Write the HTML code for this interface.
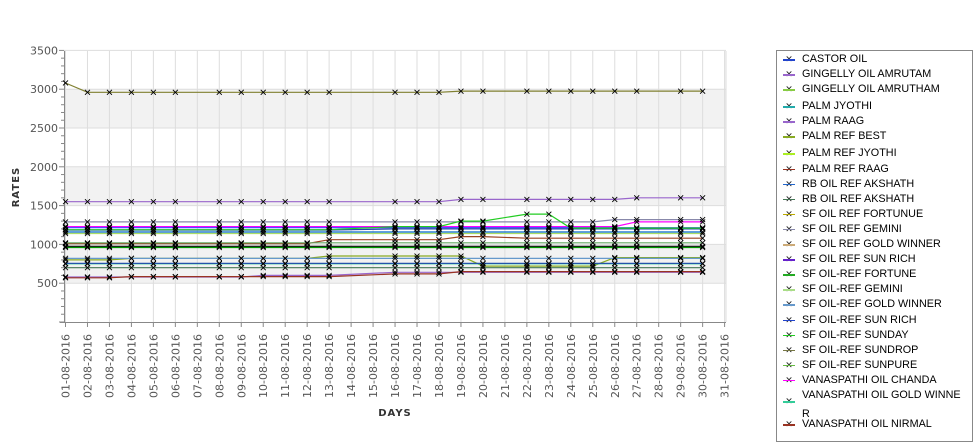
<!DOCTYPE html>
<html><head><meta charset="utf-8"><style>
body{margin:0;background:#fff;width:975px;height:429px;overflow:hidden;font-family:"Liberation Sans","DejaVu Sans",sans-serif}
#lg{position:absolute;left:776px;top:50px;width:195px;height:390px;border:1px solid #888;background:#fff;font-size:10.8px;color:#000}
.e{position:absolute;left:5px;white-space:nowrap;line-height:13px}
.e span{display:inline-block;width:14px;height:13px;margin-right:6px;font-size:9px;text-align:center;position:relative;vertical-align:top;color:#222}
.e span i{position:absolute;left:1px;right:1px;top:6px;height:1.5px}
</style></head><body>
<svg id="c" width="770" height="429" style="position:absolute;left:0;top:0" font-family="DejaVu Sans, sans-serif"></svg>
<div id="lg"></div>
<script>
const s=document.getElementById('c');let h='';
const X=d=>65.5+(d-1)*21.97, Y=v=>322-v*0.0776;
h+='<rect x="64" y="51" width="662" height="271" fill="#fff"/>';
[[2500,3000],[1500,2000],[500,1000]].forEach(b=>h+=`<rect x="64" y="${Y(b[1])}" width="662" height="${Y(b[0])-Y(b[1])}" fill="#f2f2f2"/>`);
for(let v=500;v<=3500;v+=500)h+=`<line x1="64" x2="726" y1="${Y(v)}" y2="${Y(v)}" stroke="#ddd"/>`;
for(let d=1;d<=31;d++)h+=`<line x1="${X(d)}" x2="${X(d)}" y1="51" y2="322" stroke="#ddd"/>`;
h+='<line x1="726" x2="726" y1="51" y2="322" stroke="#ddd"/>';
h+='<line x1="64.5" x2="64.5" y1="51" y2="323" stroke="#888"/><line x1="60" x2="726" y1="322.5" y2="322.5" stroke="#888"/>';
for(let v=0;v<=3500;v+=100){const L=v%500?3:5;h+=`<line x1="${64-L}" x2="64" y1="${Y(v)}" y2="${Y(v)}" stroke="#888"/>`;}
for(let v=500;v<=3500;v+=500)h+=`<text x="58" y="${Y(v)+4}" font-size="11" fill="#555" text-anchor="end">${v}</text>`;
for(let d=1;d<=31;d++){const x=X(d);h+=`<line x1="${x}" x2="${x}" y1="322" y2="327" stroke="#888"/><text transform="translate(${x+4},334) rotate(-90)" font-size="11" fill="#555" text-anchor="end">${String(d).padStart(2,'0')}-08-2016</text>`;}
h+='<text transform="translate(19,187) rotate(-90)" font-size="10" font-weight="bold" fill="#333" text-anchor="middle" letter-spacing="1">RATES</text>';
h+='<text x="395" y="416" font-size="10" font-weight="bold" fill="#333" text-anchor="middle" letter-spacing="1">DAYS</text>';
const days=[1,2,3,4,5,6,8,9,10,11,12,13,16,17,18,19,20,22,23,24,25,26,27,29,30];
const ser=[
['#808030',d=>d==1?3080:(d<19?2960:2975)],
['#9966cc',d=>d<19?1550:(d<27?1580:1600)],
['#8888aa',d=>d<26?1290:1320],
['#ff00ff',d=>d<27?1230:1290],
['#3344ff',d=>1215],
['#2244aa',d=>d<16?1185:1200],
['#0066cc',d=>1160],
['#22cc22',d=>d<16?1190:(d<19?1230:(d<22?1300:(d<24?1390:1210)))],
['#aadd66',d=>1140],
['#994422',d=>d<13?1010:(d<19?1060:(d<22?1100:1080))],
['#66aa66',d=>1020],
['#000000',d=>975],
['#009900',d=>960],
['#88aa22',d=>d<4?800:(d<13?820:(d<20?850:(d<26?720:830)))],
['#6699cc',d=>820],
['#33cc99',d=>750],
['#2255aa',d=>755],
['#447755',d=>700],
['#9966cc',d=>d<10?580:(d<16?600:640)],
['#993322',d=>d<4?570:(d<16?585:(d<19?620:650))],
];
ser.forEach(([c,f])=>{let p=days.map(d=>`${X(d).toFixed(1)},${Y(f(d)).toFixed(1)}`).join(' ');h+=`<polyline points="${p}" fill="none" stroke="${c}" stroke-width="1.2"/>`;});
ser.forEach(([c,f])=>days.forEach(d=>{const x=X(d),y=Y(f(d));h+=`<path d="M${x-2.5},${y-2.5}L${x+2.5},${y+2.5}M${x-2.5},${y+2.5}L${x+2.5},${y-2.5}" stroke="#000" stroke-width="0.9"/>`;}));
s.innerHTML=h;
const L=[['#2244cc','CASTOR OIL'],['#9966cc','GINGELLY OIL AMRUTAM'],['#88cc44','GINGELLY OIL AMRUTHAM',1],['#22aaaa','PALM JYOTHI'],['#9966cc','PALM RAAG'],['#88aa22','PALM REF BEST',1],['#aaee22','PALM REF JYOTHI'],['#993322','PALM REF RAAG'],['#2266cc','RB OIL REF  AKSHATH'],['#447755','RB OIL REF AKSHATH'],['#bbaa00','SF OIL REF FORTUNUE'],['#8888aa','SF OIL REF GEMINI'],['#ccaa77','SF OIL REF GOLD WINNER'],['#6622cc','SF OIL REF SUN RICH'],['#22aa22','SF OIL-REF FORTUNE'],['#aadd88','SF OIL-REF GEMINI'],['#6699cc','SF OIL-REF GOLD WINNER'],['#2244cc','SF OIL-REF SUN RICH'],['#22cc22','SF OIL-REF SUNDAY'],['#777744','SF OIL-REF SUNDROP'],['#66bb44','SF OIL-REF SUNPURE'],['#ff00ff','VANASPATHI OIL CHANDA']];
const sym=c=>`<span><i style="background:${c}"></i>✕</span>`;
let y=2,o='';L.forEach((e,i)=>{o+=`<div class="e" style="top:${y}px">${sym(e[0])}${e[1]}</div>`;y+=e[2]?17:15.1;});
o+=`<div class="e" style="top:${y}px;line-height:12px"><span style="margin-top:6px"><i style="background:#33cc99"></i>✕</span>VANASPATHI OIL GOLD WINNE<br><span></span>R</div>`;
o+=`<div class="e" style="top:${y+29}px">${sym('#993322')}VANASPATHI OIL NIRMAL</div>`;
document.getElementById('lg').innerHTML=o;
</script>
</body></html>
